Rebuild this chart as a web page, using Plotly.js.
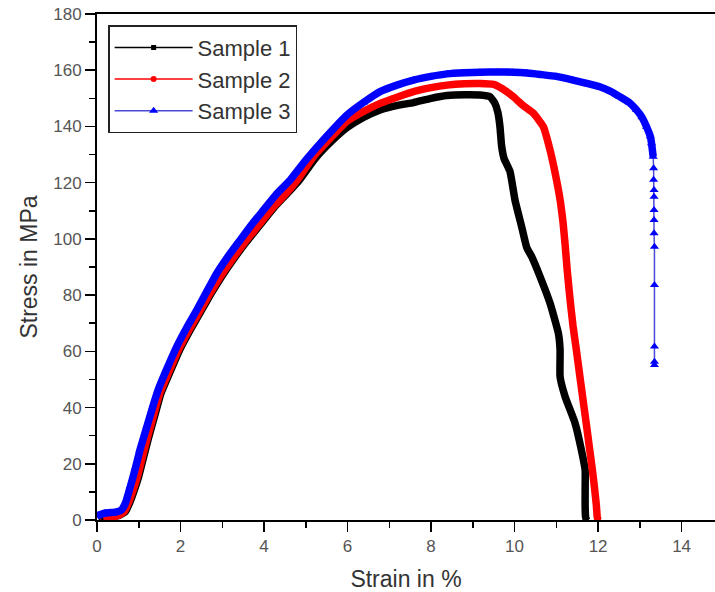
<!DOCTYPE html>
<html>
<head>
<meta charset="utf-8">
<script src="https://cdn.plot.ly/plotly-3.0.1.min.js"></script>
<style>
html,body{margin:0;padding:0;background:#fff;}
#chart{width:715px;height:592px;}
</style>
</head>
<body>
<div id="chart"></div>
<script>
// ---- data ----
const seriesNames = ["Sample 1", "Sample 2", "Sample 3"];

const s1Strain = [0.1,0.3,0.5,0.68,0.78,0.88,0.99,1.11,1.23,1.38,1.53,1.73,1.98,2.23,2.48,2.73,2.98,3.28,3.58,3.88,4.23,4.58,4.85,5.22,5.6,5.98,6.38,6.78,7.2,7.58,8.0,8.38,8.8,9.17,9.41,9.52,9.6,9.65,9.69,9.75,9.89,10.01,10.17,10.29,10.41,10.61,10.85,11.05,11.09,11.09,11.21,11.45,11.6,11.69,11.69,11.69,11.7,11.72];
const s1Stress = [0.5,1,1.5,3,6,10,15,22,29,37,45,52,60.5,67.5,74,80.5,86.5,93,99,104.5,111,116.5,121,128.5,134.5,139.5,143.2,145.9,147.5,148.5,150,151,151.3,151.2,150.6,148.5,145,140,133,128.5,124,113.8,104.3,97,93.7,86.6,77.1,66.4,60.5,51,43.9,34.4,24.9,17.8,10,4.7,1.2,0];

const s2Strain = [0.15,0.3,0.5,0.65,0.75,0.85,0.96,1.08,1.2,1.35,1.5,1.7,1.95,2.2,2.45,2.7,2.95,3.25,3.55,3.85,4.2,4.55,4.8,5.18,5.6,5.98,6.38,6.78,7.2,7.58,8.0,8.38,8.8,9.17,9.5,9.7,9.97,10.2,10.45,10.69,10.85,10.95,11.03,11.1,11.16,11.21,11.26,11.33,11.4,11.48,11.56,11.64,11.72,11.8,11.87,11.92,11.96,11.98,12.0];
const s2Stress = [0.5,1,1.5,3,6,10,15,22,29,37,45,52,60.5,67.5,74,80.5,86.5,93,99,104.5,111,116.5,121,129.2,136,141.7,145.3,148.2,150.5,152.4,153.8,154.7,155.2,155.3,155,153.5,150.6,147.5,144.7,139.9,131.6,125,119,113,106,98,89,78.3,69,60.5,51.5,42.7,34,24.9,17,10.7,5,1,0];

const s3Strain = [0,0.2,0.45,0.58,0.68,0.8,0.92,1.03,1.2,1.35,1.47,1.65,1.91,2.15,2.39,2.6,2.87,3.15,3.43,3.7,3.99,4.3,4.63,5.0,5.5,5.98,6.38,6.78,7.2,7.58,8.0,8.38,8.8,9.17,9.6,9.96,10.3,10.61,11.0,11.4,11.7,12.04,12.3,12.52,12.75,12.92,13.05,13.16,13.25,13.28,13.32];
const s3Stress = [1.5,2.5,2.8,3.5,6,12,18.5,25,33.5,41,46.5,53,61.7,68.5,74.7,80.5,87.8,94,99.6,105,110.3,116,121,128,136.5,144,148.5,152.4,154.8,156.5,157.8,158.7,159.1,159.3,159.4,159.3,159,158.5,157.8,156.5,155.4,154.1,152.5,150.6,148.5,145.9,143.3,139.9,136.5,134,129.2];
// sparse fracture tail of sample 3
const s3TailStrain = [13.33,13.33,13.34,13.34,13.34,13.34,13.34,13.35,13.35,13.35,13.35,13.35];
const s3TailStress = [125.1,121,117.4,115,110.3,106.7,102,97.2,83.6,61.7,56.3,55.1];

const xTickVals = [0,2,4,6,8,10,12,14];
const yTickVals = [0,20,40,60,80,100,120,140,160,180];

// ---- styling ----
const colors = ["#000000", "#ff0000", "#0000ff"];
const symbols = ["square", "circle", "triangle-up"];
const FONT = "Liberation Sans, Arial, sans-serif";

const s3AllStrain = s3Strain.concat(s3TailStrain);
const s3AllStress = s3Stress.concat(s3TailStress);

const thinData = [
  {x: s1Strain, y: s1Stress, c: colors[0], s: symbols[0], ms: 5, lc: colors[0]},
  {x: s2Strain, y: s2Stress, c: colors[1], s: symbols[1], ms: 6, lc: colors[1]},
  {x: s3AllStrain, y: s3AllStress, c: colors[2], s: symbols[2], ms: 8, lc: "#4a4ad8"}
];
const traces = [];
thinData.forEach((d, i) => {
  traces.push({
    type: "scatter", mode: "lines+markers", name: seriesNames[i],
    x: d.x, y: d.y,
    line: {color: d.lc, width: 1.5},
    marker: {color: d.c, symbol: d.s, size: d.ms, line: {width: 0}},
    showlegend: true, hoverinfo: "skip"
  });
});
const thick = [[s1Strain, s1Stress], [s2Strain, s2Stress], [s3Strain, s3Stress]];
thick.forEach((d, i) => {
  traces.push({
    type: "scatter", mode: "lines", name: seriesNames[i],
    x: d[0], y: d[1],
    line: {color: colors[i], width: 7.5, shape: "spline", smoothing: 0.4},
    showlegend: false, hoverinfo: "skip"
  });
});

const layout = {
  width: 715, height: 592,
  margin: {l: 97, r: 0, t: 14, b: 72, pad: 0},
  paper_bgcolor: "#ffffff", plot_bgcolor: "#ffffff",
  font: {family: FONT, color: "#444"},
  showlegend: true,
  legend: {
    x: 0.018, y: 0.978, xanchor: "left", yanchor: "top",
    bgcolor: "#ffffff", bordercolor: "#222", borderwidth: 1.5,
    font: {family: FONT, size: 22, color: "#333"},
    itemwidth: 78, tracegroupgap: 0
  },
  xaxis: {
    range: [0, 14.8], autorange: false,
    tickvals: xTickVals, ticktext: xTickVals.map(String),
    ticks: "outside", ticklen: 10, tickwidth: 1.5, tickcolor: "#000",
    minor: {dtick: 1, tick0: 0, ticks: "outside", ticklen: 6, tickwidth: 1.5, tickcolor: "#000", showgrid: false},
    showline: true, linecolor: "#000", linewidth: 2, mirror: true,
    showgrid: false, zeroline: false,
    tickfont: {family: FONT, size: 17, color: "#555"},
    title: {text: "Strain in %", font: {family: FONT, size: 23, color: "#333"}, standoff: 16}
  },
  yaxis: {
    range: [0, 180], autorange: false,
    tickvals: yTickVals, ticktext: yTickVals.map(String),
    ticks: "outside", ticklen: 10, tickwidth: 1.5, tickcolor: "#000",
    minor: {dtick: 10, tick0: 0, ticks: "outside", ticklen: 6, tickwidth: 1.5, tickcolor: "#000", showgrid: false},
    showline: true, linecolor: "#000", linewidth: 2, mirror: false,
    showgrid: false, zeroline: false,
    tickfont: {family: FONT, size: 17, color: "#555"},
    title: {text: "Stress in MPa", font: {family: FONT, size: 23, color: "#333"}, standoff: 9}
  }
};

Plotly.newPlot("chart", traces, layout, {staticPlot: true, displayModeBar: false});
</script>
</body>
</html>
